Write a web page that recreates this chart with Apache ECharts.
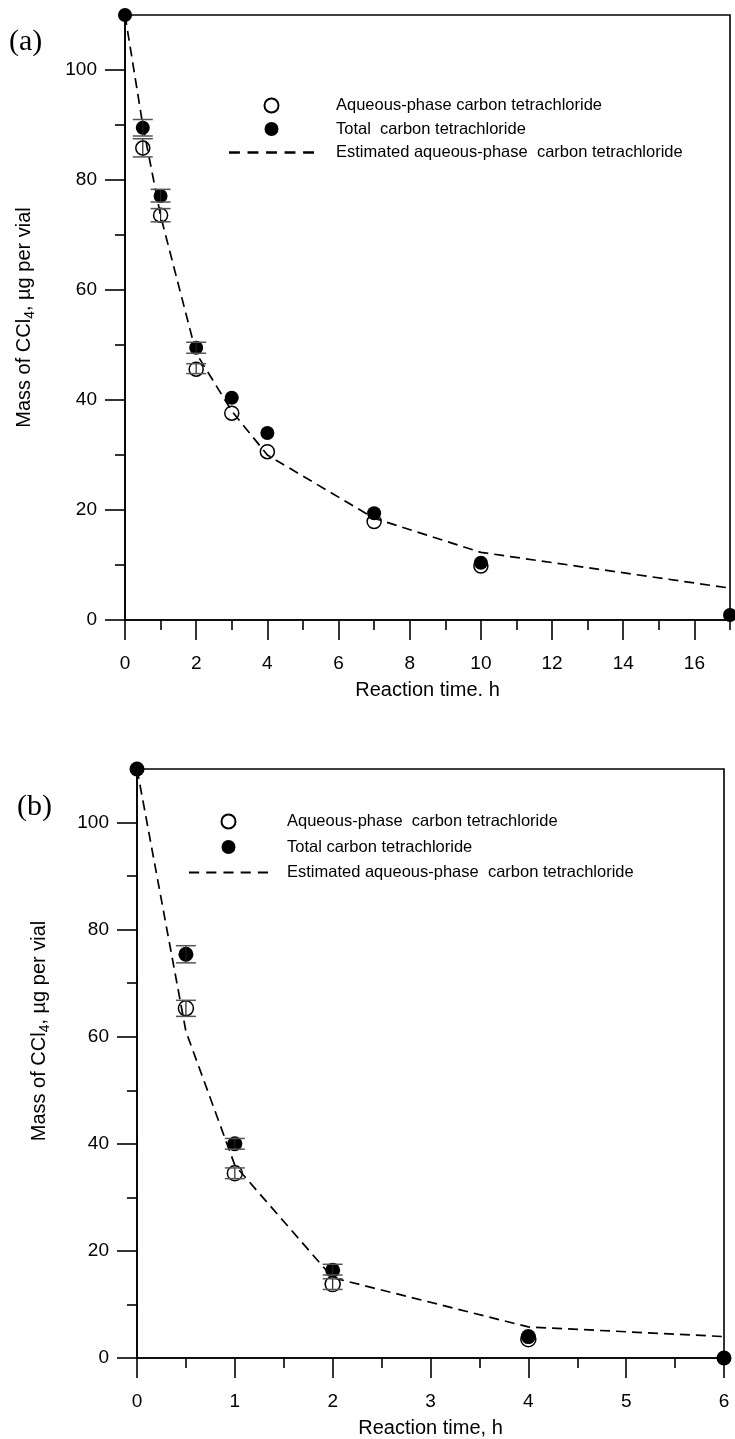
<!DOCTYPE html>
<html>
<head>
<meta charset="utf-8">
<script src="https://cdn.jsdelivr.net/npm/echarts@6/dist/echarts.min.js"></script>
<style>
  html, body { margin: 0; padding: 0; background: #fff; }
  #chart { width: 735px; height: 1439px; }
</style>
</head>
<body>
<div id="chart"></div>
<script>
const FONT = '"Liberation Sans", Arial, sans-serif'
const SERIF = '"Liberation Serif", "Times New Roman", serif'

// panel (a)
const timeA = [0, 0.5, 1, 2, 3, 4, 7, 10, 17]
const totalA = [110, 89.5, 77.1, 49.5, 40.4, 34, 19.4, 10.4, 0.9]
const aqTimeA = [0.5, 1, 2, 3, 4, 7, 10]
const aqueousA = [85.8, 73.6, 45.6, 37.6, 30.6, 17.9, 9.8]
const estA = [110, 90, 73.5, 48.5, 38, 30, 18.5, 12.3, 5.8]
const errTotalA = [[0.5, 88, 91], [1, 76, 78.3], [2, 48.5, 50.5]]
const errAqA = [[0.5, 84.2, 87.5], [1, 72.4, 74.8], [2, 44.8, 46.6]]
const xMajorA = [0, 2, 4, 6, 8, 10, 12, 14, 16]
const xMinorA = [1, 3, 5, 7, 9, 11, 13, 15, 17]

// panel (b)
const timeB = [0, 0.5, 1, 2, 4, 6]
const totalB = [110, 75.4, 40, 16.4, 4, 0]
const aqTimeB = [0.5, 1, 2, 4]
const aqueousB = [65.3, 34.5, 13.8, 3.5]
const estB = [110, 61, 36, 15, 5.8, 4]
const errTotalB = [[0.5, 73.8, 77], [1, 39, 41], [2, 15.5, 17.5]]
const errAqB = [[0.5, 63.8, 66.8], [1, 33.5, 35.5], [2, 12.8, 14.8]]
const xMajorB = [0, 1, 2, 3, 4, 5, 6]
const xMinorB = [0.5, 1.5, 2.5, 3.5, 4.5, 5.5]

const yMajor = [0, 20, 40, 60, 80, 100]
const yMinor = [10, 30, 50, 70, 90]

const namesA = ['Aqueous-phase carbon tetrachloride', 'Total  carbon tetrachloride', 'Estimated aqueous-phase  carbon tetrachloride']
const namesB = ['Aqueous-phase  carbon tetrachloride', 'Total carbon tetrachloride', 'Estimated aqueous-phase  carbon tetrachloride']

const zip = (xs, ys) => xs.map((x, i) => [x, ys[i]])

const chart = echarts.init(document.getElementById('chart'))

function renderErr(params, api) {
  const x = api.value(0)
  const top = api.coord([x, api.value(2)])
  const bot = api.coord([x, api.value(1)])
  const w = 10
  return {
    type: 'group',
    children: [
      { type: 'line', shape: { x1: top[0], y1: top[1], x2: bot[0], y2: bot[1] }, style: { stroke: '#222', lineWidth: 1.2 } },
      { type: 'line', shape: { x1: top[0] - w, y1: top[1], x2: top[0] + w, y2: top[1] }, style: { stroke: '#555', lineWidth: 1.5 } },
      { type: 'line', shape: { x1: bot[0] - w, y1: bot[1], x2: bot[0] + w, y2: bot[1] }, style: { stroke: '#555', lineWidth: 1.5 } },
    ],
  }
}

const yName = 'Mass of CCl{sub|4}, µg per vial'
const nameStyle = (pad) => ({
  fontSize: 20, fontFamily: FONT, color: '#000', padding: pad,
  rich: { sub: { fontSize: 14, fontFamily: FONT, color: '#000', verticalAlign: 'bottom', lineHeight: 26 } },
})

function xAxes(gridIndex, max, major, minor, name) {
  return [
    {
      gridIndex, type: 'value', min: 0, max, position: 'bottom',
      name, nameLocation: 'middle', nameGap: 60,
      nameTextStyle: { fontSize: 20, fontFamily: FONT, color: '#000' },
      axisLine: { show: true, lineStyle: { color: '#000', width: 1.6 } },
      axisTick: { show: true, inside: false, length: 20, customValues: major, lineStyle: { color: '#000', width: 1.6 } },
      axisLabel: { customValues: major, margin: 34, fontSize: 19, fontFamily: FONT, color: '#000' },
      splitLine: { show: false },
    },
    {
      gridIndex, type: 'value', min: 0, max, position: 'bottom',
      axisLine: { show: false },
      axisTick: { show: true, inside: false, length: 10, customValues: minor, lineStyle: { color: '#000', width: 1.6 } },
      axisLabel: { show: false },
      splitLine: { show: false },
    },
  ]
}

function yAxes(gridIndex, gap, pad) {
  return [
    {
      gridIndex, type: 'value', min: 0, max: 110, position: 'left',
      name: yName, nameLocation: 'middle', nameGap: gap, nameTextStyle: nameStyle(pad),
      axisLine: { show: true, lineStyle: { color: '#000', width: 1.6 } },
      axisTick: { show: true, inside: false, length: 20, customValues: yMajor, lineStyle: { color: '#000', width: 1.6 } },
      axisLabel: { customValues: yMajor, margin: 28, fontSize: 19, fontFamily: FONT, color: '#000' },
      splitLine: { show: false },
    },
    {
      gridIndex, type: 'value', min: 0, max: 110, position: 'left',
      axisLine: { show: false },
      axisTick: { show: true, inside: false, length: 10, customValues: yMinor, lineStyle: { color: '#000', width: 1.6 } },
      axisLabel: { show: false },
      splitLine: { show: false },
    },
  ]
}

function panelSeries(ax, names, t, tot, at, aq, est, errT, errQ, size) {
  return [
    {
      name: names[2], type: 'line', xAxisIndex: ax, yAxisIndex: ax,
      data: zip(t, est), symbol: 'none', showSymbol: false, z: 2,
      itemStyle: { color: '#000' },
      lineStyle: { color: '#000', width: 1.7, type: [10, 6] },
    },
    {
      name: names[0], type: 'scatter', xAxisIndex: ax, yAxisIndex: ax,
      data: zip(at, aq), symbol: 'circle', symbolSize: size, clip: false, z: 3,
      itemStyle: { color: 'rgba(255,255,255,0)', borderColor: '#000', borderWidth: 1.5, opacity: 1 },
    },
    {
      name: names[1], type: 'scatter', xAxisIndex: ax, yAxisIndex: ax,
      data: zip(t, tot), symbol: 'circle', symbolSize: size, clip: false, z: 4,
      itemStyle: { color: '#000', opacity: 1 },
    },
    {
      type: 'custom', xAxisIndex: ax, yAxisIndex: ax, renderItem: renderErr,
      data: errT.concat(errQ), encode: { x: 0, y: [1, 2] }, z: 5, clip: false,
    },
  ]
}

// five short dashes, drawn as the legend icon of the dashed line
const DASH_ICON = 'path://M0,0h10v2.2h-10zM17,0h10v2.2h-10zM34,0h10v2.2h-10zM51,0h10v2.2h-10zM68,0h10v2.2h-10z'

const legendText = (pad) => ({ fontSize: 16.5, fontFamily: FONT, color: '#000', padding: [0, 0, 0, pad] })
const legendData = (names) => [
  { name: names[0] },
  { name: names[1] },
  { name: names[2], icon: DASH_ICON, itemStyle: { color: '#000', opacity: 1 } },
]

const option = {
  animation: false,
  backgroundColor: '#fff',
  grid: [
    { left: 125, top: 15, width: 605, height: 605, show: true, borderColor: '#000', borderWidth: 1.6 },
    { left: 137, top: 769, width: 587, height: 589, show: true, borderColor: '#000', borderWidth: 1.6 },
  ],
  xAxis: [
    ...xAxes(0, 17, xMajorA, xMinorA, 'Reaction time. h'),
    ...xAxes(1, 6, xMajorB, xMinorB, 'Reaction time, h'),
  ],
  yAxis: [
    ...yAxes(0, 88, [0, 0, 0, 0]),
    ...yAxes(1, 85, [0, 0, 0, 65]),
  ],
  legend: [
    {
      data: legendData(namesA), orient: 'vertical', left: 229, top: 97, padding: 0,
      itemWidth: 85, itemHeight: 14, itemGap: 6.5,
      textStyle: legendText(17), selectedMode: false,
    },
    {
      data: legendData(namesB), orient: 'vertical', left: 189, top: 813, padding: 0,
      itemWidth: 79, itemHeight: 14, itemGap: 8.5,
      textStyle: legendText(14), selectedMode: false,
    },
  ],
  graphic: [
    { type: 'text', left: 9, top: 27, style: { text: '(a)', font: '30px ' + SERIF, fill: '#000' } },
    { type: 'text', left: 17, top: 792, style: { text: '(b)', font: '30px ' + SERIF, fill: '#000' } },
  ],
  series: [
    ...panelSeries(0, namesA, timeA, totalA, aqTimeA, aqueousA, estA, errTotalA, errAqA, 14),
    ...panelSeries(2, namesB, timeB, totalB, aqTimeB, aqueousB, estB, errTotalB, errAqB, 15),
  ],
}

chart.setOption(option)
</script>
</body>
</html>
